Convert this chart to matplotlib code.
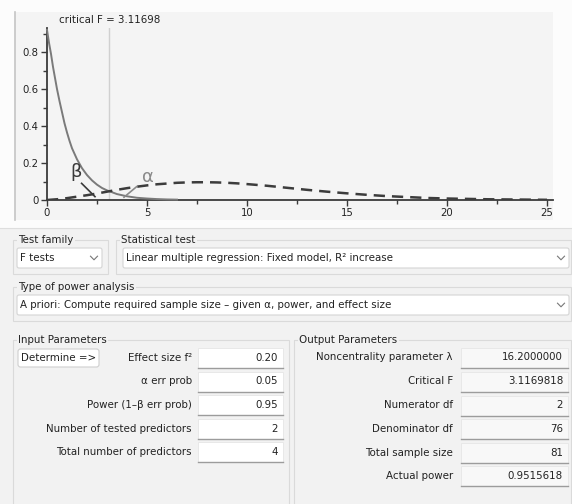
import matplotlib
matplotlib.use("Agg")
import matplotlib.pyplot as plt
from matplotlib.patches import Rectangle, FancyBboxPatch
from matplotlib.ticker import MultipleLocator

plt.rcParams['font.family'] = ['DejaVu Sans']

# Central F(2, 76) density under H0
h0_x = [0.0, 0.1, 0.2, 0.3, 0.4, 0.5, 0.625, 0.75, 0.875, 1.0, 1.125, 1.25, 1.5, 1.75, 2.0,
        2.25, 2.5, 2.75, 3.0, 3.5, 4.0, 4.5, 5.0, 5.5, 6.0, 6.5]
h0_y = [0.92, 0.85, 0.79, 0.72, 0.66, 0.60, 0.535, 0.475, 0.415, 0.365, 0.32, 0.28, 0.22, 0.172,
        0.135, 0.106, 0.083, 0.065, 0.052, 0.032, 0.020, 0.012, 0.008, 0.005, 0.003, 0.002]

# Noncentral F(2, 76, lambda = 16.2) density under H1
h1_x = [0.0, 0.5, 1.0, 1.5, 2.0, 2.5, 3.0, 3.5, 4.0, 4.5, 5.0, 5.5, 6.0, 6.5, 7.0, 7.5, 8.0, 8.5,
        9.0, 9.5, 10.0, 11.0, 12.0, 13.0, 14.0, 15.0, 16.0, 17.0, 18.0, 19.0, 20.0, 21.0, 22.0,
        23.0, 24.0, 25.0]
h1_y = [0.000, 0.004, 0.010, 0.018, 0.026, 0.035, 0.045, 0.055, 0.064, 0.072, 0.079, 0.085, 0.089,
        0.093, 0.095, 0.096, 0.096, 0.095, 0.093, 0.090, 0.086, 0.077, 0.066, 0.055, 0.045, 0.036,
        0.028, 0.021, 0.016, 0.011, 0.008, 0.006, 0.004, 0.003, 0.002, 0.001]

crit_f = 3.11698

x_ticks = [0, 5, 10, 15, 20, 25]
x_tick_labels = ['0', '5', '10', '15', '20', '25']
y_ticks = [0, 0.2, 0.4, 0.6, 0.8]
y_tick_labels = ['0', '0.2', '0.4', '0.6', '0.8']

test_family = 'F tests'
statistical_test = 'Linear multiple regression: Fixed model, R² increase'
analysis_type = 'A priori: Compute required sample size – given α, power, and effect size'
input_labels = ['Effect size f²', 'α err prob', 'Power (1–β err prob)',
                'Number of tested predictors', 'Total number of predictors']
input_values = ['0.20', '0.05', '0.95', '2', '4']
output_labels = ['Noncentrality parameter λ', 'Critical F', 'Numerator df', 'Denominator df',
                 'Total sample size', 'Actual power']
output_values = ['16.2000000', '3.1169818', '2', '76', '81', '0.9515618']

W, H = 572, 504
BG = '#f2f2f2'
TXT = '#222222'
FS = 7.4

fig = plt.figure(figsize=(W / 100, H / 100), dpi=100)
fig.patch.set_facecolor(BG)

# Window layer in pixel coordinates
ui = fig.add_axes([0, 0, 1, 1])
ui.set_xlim(0, W)
ui.set_ylim(H, 0)
ui.axis('off')

# Graph panel
ui.add_patch(Rectangle((0, 0), W, 228, facecolor='#fcfcfc', edgecolor='none'))
ui.add_patch(Rectangle((15, 12), 538, 208, facecolor='#f4f4f4', edgecolor='none'))
ui.plot([15, 15], [12, 220], color='#c4c4c4', lw=1.2)
ui.plot([0, W], [228, 228], color='#dedede', lw=0.8)


def group(x0, y0, x1, y1, label):
    ui.add_patch(Rectangle((x0, y0), x1 - x0, y1 - y0, facecolor='none',
                           edgecolor='#dadada', lw=0.8))
    ui.text(x0 + 5, y0, label, fontsize=FS, color=TXT, va='center', ha='left',
            bbox=dict(facecolor=BG, edgecolor='none', pad=1.0))


def dropdown(x0, y0, x1, y1, label):
    ui.add_patch(FancyBboxPatch((x0, y0), x1 - x0, y1 - y0,
                                boxstyle='round,pad=0,rounding_size=2',
                                facecolor='#ffffff', edgecolor='#d4d4d4', lw=0.8))
    ui.text(x0 + 3, (y0 + y1) / 2, label, fontsize=FS, color=TXT, va='center', ha='left')
    cx, cy = x1 - 8, (y0 + y1) / 2
    ui.plot([cx - 3.5, cx, cx + 3.5], [cy - 1.8, cy + 1.8, cy - 1.8], color='#777777', lw=0.8)


def field(x0, x1, yc, value, face):
    ui.add_patch(Rectangle((x0, yc - 10), x1 - x0, 20, facecolor=face,
                           edgecolor='#e6e6e6', lw=0.6))
    ui.plot([x0, x1], [yc + 10, yc + 10], color='#9c9c9c', lw=1.0)
    ui.text(x1 - 5, yc, value, fontsize=FS, color=TXT, va='center', ha='right')


group(13, 240, 108, 274, 'Test family')
group(116, 240, 571, 274, 'Statistical test')
group(13, 287, 571, 321, 'Type of power analysis')
group(13, 340, 289, 520, 'Input Parameters')
group(294, 340, 571, 520, 'Output Parameters')

dropdown(17, 248, 102, 268, test_family)
dropdown(123, 248, 569, 268, statistical_test)
dropdown(17, 295, 569, 315, analysis_type)

# Determine button
ui.add_patch(FancyBboxPatch((18, 349), 81, 18, boxstyle='round,pad=0,rounding_size=2.5',
                            facecolor='#ffffff', edgecolor='#cfcfcf', lw=0.8))
ui.text(58.5, 358, 'Determine =>', fontsize=FS, color=TXT, va='center', ha='center')

in_rows = [358, 381.5, 405, 428.5, 452]
for yc, lab, val in zip(in_rows, input_labels, input_values):
    ui.text(192, yc, lab, fontsize=FS, color=TXT, va='center', ha='right')
    field(198, 283, yc, val, '#ffffff')

out_rows = [357.5, 381.5, 405.5, 429, 452.5, 476]
for yc, lab, val in zip(out_rows, output_labels, output_values):
    ui.text(453, yc, lab, fontsize=FS, color=TXT, va='center', ha='right')
    field(461, 568, yc, val, '#f8f8f8')

# Distribution plot
x_lo, x_hi = 0, 25.3
y_lo, y_hi = 0, 0.93
ax = fig.add_axes([47 / W, (H - 200) / H, (553 - 47) / W, (200 - 28) / H])
ax.set_facecolor('none')
ax.set_xlim(x_lo, x_hi)
ax.set_ylim(y_lo, y_hi)
for side in ['top', 'right']:
    ax.spines[side].set_visible(False)
for side in ['left', 'bottom']:
    ax.spines[side].set_color('#3a3a3a')
    ax.spines[side].set_linewidth(1.3)

ax.set_xticks(x_ticks)
ax.set_xticklabels(x_tick_labels)
ax.set_yticks(y_ticks)
ax.set_yticklabels(y_tick_labels)
ax.xaxis.set_minor_locator(MultipleLocator(2.5))
ax.yaxis.set_minor_locator(MultipleLocator(0.1))
ax.tick_params(which='both', direction='out', colors='#3a3a3a', width=1.0, labelsize=7.3,
               labelcolor=TXT)
ax.tick_params(which='major', length=4, pad=2)
ax.tick_params(which='minor', length=3)

ax.plot([crit_f, crit_f], [y_lo, y_hi], color='#d0d0d0', lw=1.0, zorder=1)
ax.plot(h0_x, h0_y, color='#7a7a7a', lw=1.4, zorder=3, clip_on=False)
ax.plot(h1_x, h1_y, color='#3c3c3c', lw=1.8, dashes=(4.5, 2.8), zorder=4)

ax.annotate('critical F = 3.11698', xy=(crit_f, 1.0), xycoords=('data', 'axes fraction'),
            xytext=(0, 6), textcoords='offset points', ha='center', va='center',
            fontsize=7.4, color=TXT)

# beta / alpha markers
ax.plot([1.73, 2.4], [0.09, 0.018], color='#3a3a3a', lw=1.2, zorder=5)
ax.text(1.45, 0.15, 'β', fontsize=13, color='#3a3a3a', ha='center', va='center')
ax.plot([4.48, 3.85], [0.072, 0.015], color='#8a8a8a', lw=1.2, zorder=5)
ax.text(5.05, 0.125, 'α', fontsize=13, color='#8a8a8a', ha='center', va='center')

fig.savefig('out.png', dpi=100, facecolor=fig.get_facecolor())
